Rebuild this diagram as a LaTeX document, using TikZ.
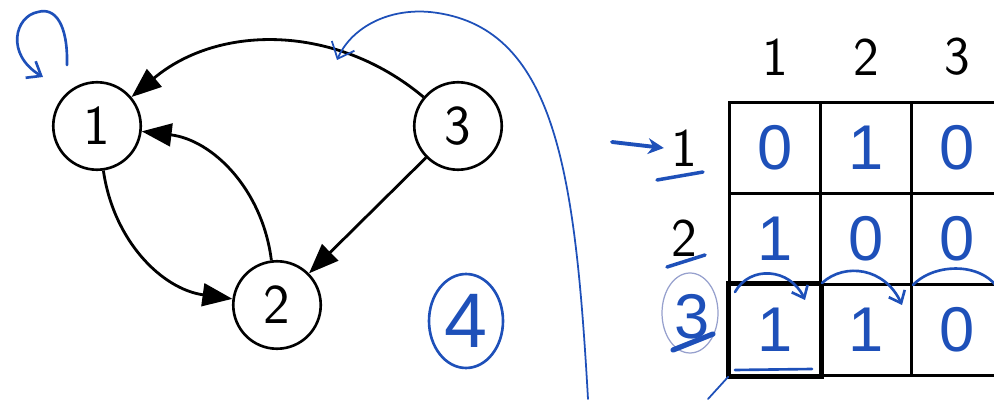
\documentclass[tikz,border=0pt]{standalone}
\usepackage{fontspec}
\newfontfamily\handfont{Liberation Sans}
\usetikzlibrary{arrows.meta,shapes.geometric}
\definecolor{pen}{RGB}{30,80,185}
\definecolor{faintpen}{RGB}{150,160,205}

\begin{document}
\begin{tikzpicture}
  [x=0.02cm, y=0.02cm,
   vertex/.style={circle, draw=black, line width=1.5pt, minimum size=1.75cm, inner sep=0pt, font=\sffamily\fontsize{32}{34}\selectfont},
   edge/.style={line width=1.6pt, draw=black, -{Triangle[length=17pt,width=13pt]}},
   cell/.style={draw=black, line width=1.5pt, minimum size=1.82cm, inner sep=0pt, text=pen, font=\handfont\fontsize{36}{38}\selectfont},
   head/.style={inner sep=4pt, font=\sffamily\fontsize{31}{33}\selectfont},
   hand/.style={text=pen, font=\handfont\fontsize{36}{38}\selectfont},
   ink/.style={draw=pen, line width=1.5pt, line cap=round}]

  \useasboundingbox (0,0) rectangle (994,399);

  % Vertices
  \node[vertex] (n1) at (97,273) {1};
  \node[vertex] (n2) at (277,94) {2};
  \node[vertex] (n3) at (458,273) {3};

  % Edges
  \foreach \from/\to/\b in {n3/n1/40, n1/n2/37, n2/n1/38}
    \draw[edge] (\from) to[bend right=\b] (\to);
  \draw[edge] (n3) -- (n2);

  % Matrix headers
  \node[head] (h1) at (775,342) {1};
  \node[head] (h2) at (866,342) {2};
  \node[head] (h3) at (957,342) {3};
  \node[head] (r1) at (684,251) {1};
  \node[head] (r2) at (684,161) {2};
  \node[hand] (r3) at (692,82) {3};

  % Matrix cells
  \foreach \r/\c/\v in {1/1/0, 1/2/1, 1/3/0, 2/1/1, 2/2/0, 2/3/0, 3/1/1, 3/2/1, 3/3/0}
    \node[cell] (c\r\c) at ({775+91*(\c-1)},{251-91*(\r-1)}) {\v};
  \draw[line width=3pt] (c31.south west) rectangle (c31.north east);

  % Blue notes
  \node[ellipse, draw=pen, line width=1.5pt, minimum width=1.48cm, minimum height=1.88cm, inner sep=0pt, text=pen, font=\handfont\fontsize{44}{46}\selectfont] (four) at (466,78) {4};
  \node[ellipse, draw=faintpen, line width=0.7pt, minimum width=1.12cm, minimum height=1.6cm] (ring) at (690,86) {};

  \coordinate (hookA) at (67,334);
  \coordinate (hookB) at (43,322);
  \draw[ink, -{Straight Barb[length=7pt,width=11pt]}] (hookA) .. controls (68,375) and (55,392) .. (38,387)
    .. controls (15,383) and (5,345) .. (hookB);

  \coordinate (tail) at (588,0);
  \coordinate (tip) at (337,339);
  \draw[ink, line width=1pt, -{Straight Barb[length=8pt,width=14pt]}] (tail) .. controls (575,229) and (555,374) .. (430,387)
    .. controls (385,391) and (350,369) .. (tip);

  \coordinate (ptr) at (612,257);
  \draw[ink, line width=2.2pt, -{Stealth[length=9pt,width=9pt]}] (ptr) -- (r1.west);

  \draw[ink, line width=2pt] (657,219) -- (703,227);
  \draw[ink, line width=2pt] (667,132) -- (705,144);
  \draw[ink, line width=3pt] (673,49) -- (713,65);
  \draw[ink] (735,29) -- (812,30);

  \draw[ink, -{Straight Barb[length=6pt,width=10pt]}] (735,107) .. controls (750,134) and (790,131) .. (805,99);
  \draw[ink, -{Straight Barb[length=6pt,width=10pt]}] (822,116) .. controls (845,137) and (885,131) .. (902,94);
  \draw[ink] (913,114) .. controls (935,137) and (985,137) .. (1000,107);
  \draw[ink, line width=1pt] (c31.south west) -- (708,0);
\end{tikzpicture}
\end{document}
